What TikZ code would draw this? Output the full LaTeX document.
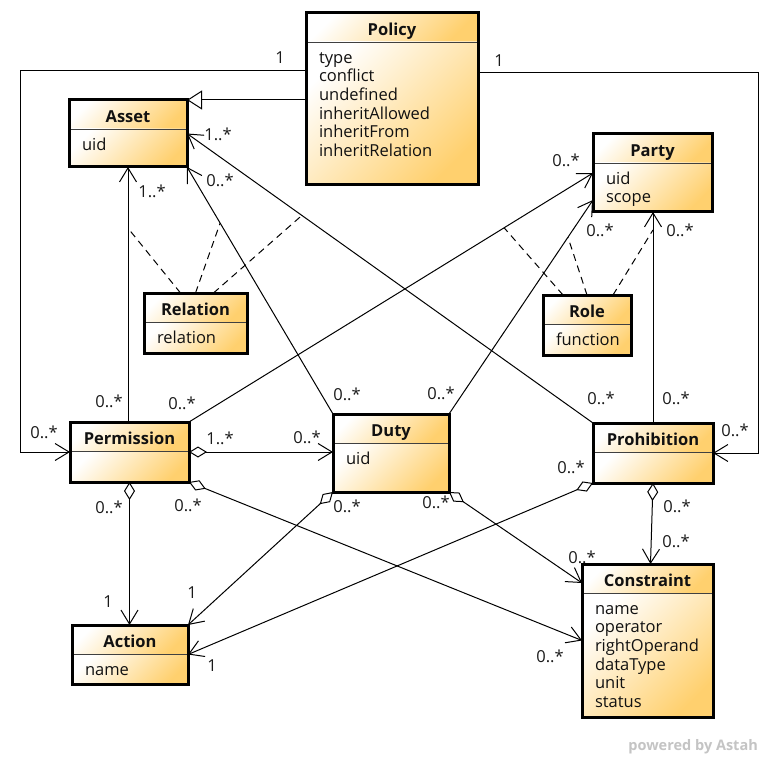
\documentclass[tikz,border=0pt]{standalone}
\usepackage{fontspec}
\setmainfont{Open Sans}
\usetikzlibrary{arrows.meta,fit,positioning}
\definecolor{classText}{HTML}{111111}
\definecolor{classBorder}{HTML}{000000}
\definecolor{classShade}{HTML}{FFD06E}
\definecolor{multText}{HTML}{1A1A1A}
\definecolor{markGray}{HTML}{C4C4C4}
\newcommand{\classfont}{\fontsize{16.5}{18.7}\selectfont}
% name, top left corner, width, body height, title, attributes
\newcommand{\umlclass}[6]{%
  \node[classhead, minimum width=#3pt, anchor=north west] (#1-head) at (#2) {#5};
  \node[classbody, minimum width=#3pt, below=0pt of #1-head] (#1-body)
    {\parbox[t][\dimexpr#4pt-16pt\relax][t]{\dimexpr#3pt-26pt\relax}{\raggedright\strut#6}};
  \draw[classrule] (#1-head.south west) -- (#1-head.south east);
  \node[classframe, fit=(#1-head)(#1-body)] (#1) {};
}

\begin{document}
\begin{tikzpicture}[
  x=1pt, y=-1pt,
  classhead/.style={
    inner sep=0pt,
    outer sep=0pt,
    minimum height=29pt,
    text height=16pt,
    text depth=0pt,
    font=\classfont\bfseries,
    text=classText,
    top color=white,
    bottom color=classShade,
    shading angle=45
  },
  classbody/.style={
    inner xsep=13pt,
    inner ysep=8pt,
    outer sep=0pt,
    font=\classfont,
    text=classText,
    top color=white,
    bottom color=classShade,
    shading angle=45
  },
  classframe/.style={draw=classBorder, line width=3pt, inner sep=0pt, outer sep=0pt},
  classrule/.style={draw=classBorder!75, line width=0.8pt},
  link/.style={draw=black, line width=1pt},
  nav/.style={link, -{Straight Barb[length=14pt,width=17pt]}},
  aggr/.style={link, {Diamond[open,length=18pt,width=11pt]}-{Straight Barb[length=14pt,width=17pt]}},
  gener/.style={link, -{Triangle[open,length=15pt,width=19pt]}},
  assoc/.style={draw=black, line width=1pt, dash pattern=on 7pt off 5pt},
  mult/.style={font=\classfont, text=multText, inner sep=0pt}
]
\fill[white] (0,0) rectangle (780,757);

\umlclass{policy}{306,13}{172}{143}{Policy}{type\\conflict\\undefined\\inheritAllowed\\inheritFrom\\inheritRelation}
\umlclass{asset}{69,100}{118}{38}{Asset}{uid}
\umlclass{party}{593,134}{119}{49}{Party}{uid\\scope}
\umlclass{relation}{144,293}{103}{31}{Relation}{relation}
\umlclass{role}{543,295}{88}{31}{Role}{function}
\umlclass{permission}{70,422}{119}{31}{Permission}{}
\umlclass{duty}{333,414}{116}{49}{Duty}{uid}
\umlclass{prohibition}{593,423}{120}{31}{Prohibition}{}
\umlclass{action}{72,625}{116}{30}{Action}{name}
\umlclass{constraint}{582,564}{131}{124}{Constraint}{name\\operator\\rightOperand\\dataType\\unit\\status}

% policy
\draw[gener] (asset.north east -| policy.west) -- (asset.north east);
\draw[nav] ([yshift=-58pt]policy.north west) -| ([xshift=-50pt]permission.west) -- (permission.west);
\draw[nav] ([yshift=-60pt]policy.north east) -| ([xshift=45pt]prohibition.east) -- (prohibition.east);

% targets and assignees
\draw[nav] (asset.south |- permission.north) -- coordinate[pos=0.76] (perm-asset-link) (asset.south);
\draw[nav] (duty.north west) -- coordinate[pos=0.773] (duty-asset-link) (asset.south east);
\draw[nav] (prohibition.north west) -- coordinate[pos=0.717] (proh-asset-link) (asset.east);
\draw[nav] (permission.north east) -- coordinate[pos=0.78] (perm-party-link) (party.west);
\draw[nav] (duty.north east) -- coordinate[pos=0.826] (duty-party-link) ([yshift=12pt]party.south west);
\draw[nav] (prohibition.north) -- coordinate[pos=0.915] (proh-party-link) (prohibition.north |- party.south);

% aggregations
\draw[aggr] (permission.east) -- (permission.east -| duty.west);
\draw[aggr] (permission.south) -- (permission.south |- action.north);
\draw[aggr] (permission.south east) -- (constraint.west);
\draw[aggr] (duty.south west) -- (action.north east);
\draw[aggr] (duty.south east) -- ([yshift=-19pt]constraint.north west);
\draw[aggr] (prohibition.south west) -- (action.east);
\draw[aggr] (prohibition.south) -- ([xshift=3pt]constraint.north);

% association classes
\draw[assoc] ([xshift=-15pt]relation.north) -- (perm-asset-link);
\draw[assoc] (relation.north) -- (duty-asset-link);
\draw[assoc] ([xshift=18pt]relation.north) -- (proh-asset-link);
\draw[assoc] ([xshift=-24pt]role.north) -- (perm-party-link);
\draw[assoc] (role.north) -- (duty-party-link);
\draw[assoc] ([xshift=26pt]role.north) -- (proh-party-link);

% multiplicities
\node[mult] (pol-perm-s) at (280,58) {1};
\node[mult] (pol-perm-t) at (44,432) {0..*};
\node[mult] (pol-proh-s) at (499,61) {1};
\node[mult] (pol-proh-t) at (735,430) {0..*};
\node[mult] (perm-asset-s) at (109,401) {0..*};
\node[mult] (perm-asset-t) at (152,191) {1..*};
\node[mult] (duty-asset-s) at (347,394) {0..*};
\node[mult] (duty-asset-t) at (220,180) {0..*};
\node[mult] (proh-asset-s) at (601,398) {0..*};
\node[mult] (proh-asset-t) at (218,134) {1..*};
\node[mult] (perm-party-s) at (182,403) {0..*};
\node[mult] (perm-party-t) at (566,160) {0..*};
\node[mult] (duty-party-s) at (441,393) {0..*};
\node[mult] (duty-party-t) at (600,230) {0..*};
\node[mult] (proh-party-s) at (676,398) {0..*};
\node[mult] (proh-party-t) at (680,230) {0..*};
\node[mult] (perm-duty-s) at (220,438) {1..*};
\node[mult] (perm-duty-t) at (307,437) {0..*};
\node[mult] (perm-action-s) at (109,507) {0..*};
\node[mult] (perm-action-t) at (108,602) {1};
\node[mult] (perm-cons-s) at (188,505) {0..*};
\node[mult] (perm-cons-t) at (550,656) {0..*};
\node[mult] (duty-action-s) at (347,506) {0..*};
\node[mult] (duty-action-t) at (192,593) {1};
\node[mult] (duty-cons-s) at (436,502) {0..*};
\node[mult] (duty-cons-t) at (582,557) {0..*};
\node[mult] (proh-action-s) at (571,467) {0..*};
\node[mult] (proh-action-t) at (212,666) {1};
\node[mult] (proh-cons-s) at (677,506) {0..*};
\node[mult] (proh-cons-t) at (676,541) {0..*};

\node[font=\fontsize{14.5}{16}\selectfont\bfseries, text=markGray, inner sep=0pt, anchor=base east] (astah-mark) at (758,750) {powered by Astah};

\end{tikzpicture}
\end{document}
